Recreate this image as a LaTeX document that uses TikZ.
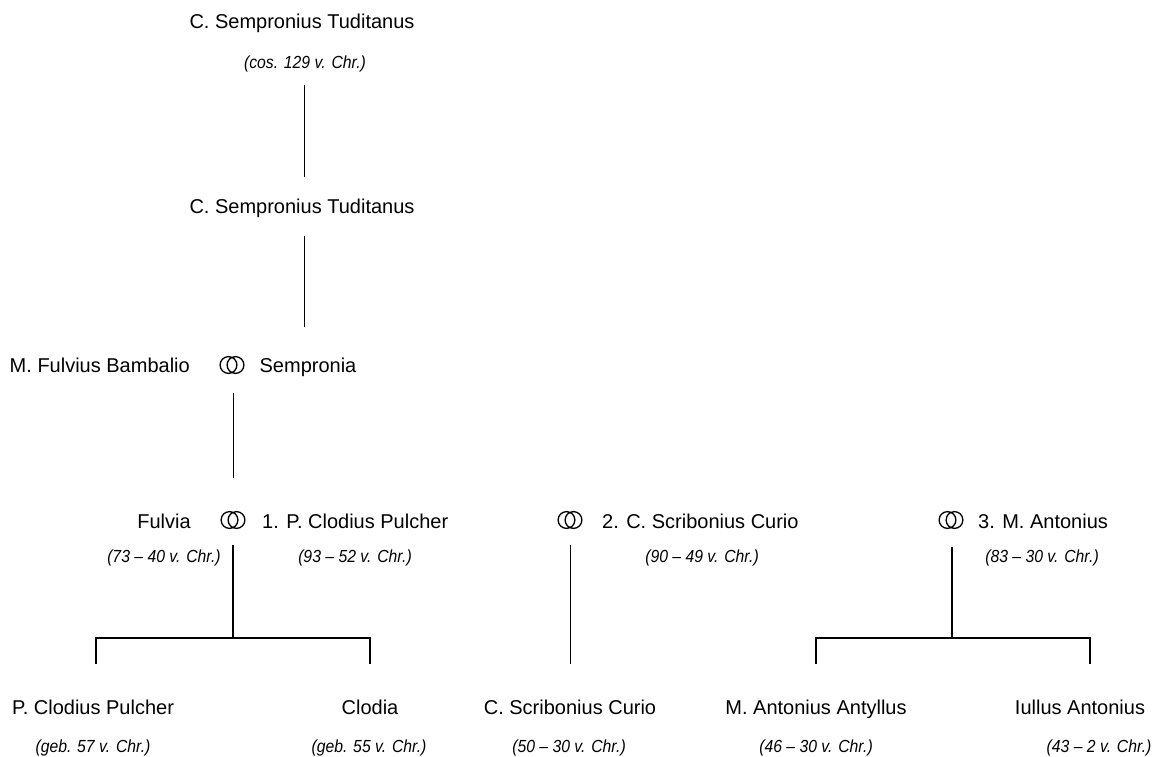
\documentclass[tikz,border=0pt]{standalone}
\usepackage{fontspec}
\setmainfont{Liberation Sans}
\newfontfamily\datefont[FakeStretch=0.9,Ligatures=TeX]{Liberation Sans}
\begin{document}
\begin{tikzpicture}[x=1pt,y=-1pt,
  nm/.style={anchor=base, inner sep=0pt, font=\fontsize{20}{24}\selectfont},
  dt/.style={anchor=base, inner sep=0pt, font=\datefont\fontsize{17.5}{20}\selectfont\itshape},
  thinl/.style={line width=1pt},
  thickl/.style={line width=1.6pt},
  marriage/.style={inner sep=0pt, minimum width=27pt, minimum height=21pt,
    path picture={\draw[line width=1.3pt]
      ([xshift=-3.5pt]path picture bounding box.center) circle[radius=8.4pt]
      ([xshift=3.5pt]path picture bounding box.center) circle[radius=8.4pt];}}]
\useasboundingbox (0,0) rectangle (1167,756);

% generation 1
\node[nm] (a1) at (302,28) {C. Sempronius Tuditanus};
\node[dt] (a1d) at (305,68) {(cos. 129 v. Chr.)};
% generation 2
\node[nm] (a2) at (302,213) {C. Sempronius Tuditanus};
% generation 3
\node[nm, anchor=base east] (b1) at (190,372) {M. Fulvius Bambalio};
\node[marriage] (m1) at (232,365) {};
\node[nm] (b2) at (308,372) {Sempronia};
% generation 4
\node[nm] (c1) at (164,528) {Fulvia};
\node[dt] (c1d) at (164,562) {(73 – 40 v. Chr.)};
\node[marriage] (m2) at (233,520) {};
\node[nm, anchor=base west] (c2) at (262,528) {1. P. Clodius Pulcher};
\node[dt] (c2d) at (355,562) {(93 – 52 v. Chr.)};
\node[marriage] (m3) at (570,520) {};
\node[nm, anchor=base west] (c3) at (602,528) {2. C. Scribonius Curio};
\node[dt] (c3d) at (702,562) {(90 – 49 v. Chr.)};
\node[marriage] (m4) at (951,520) {};
\node[nm, anchor=base west] (c4) at (978,528) {3. M. Antonius};
\node[dt] (c4d) at (1042,562) {(83 – 30 v. Chr.)};
% generation 5
\node[nm] (e1) at (93,714) {P. Clodius Pulcher};
\node[dt] (e1d) at (93,752) {(geb. 57 v. Chr.)};
\node[nm] (e2) at (370,714) {Clodia};
\node[dt] (e2d) at (369,752) {(geb. 55 v. Chr.)};
\node[nm] (e3) at (570,714) {C. Scribonius Curio};
\node[dt] (e3d) at (569,752) {(50 – 30 v. Chr.)};
\node[nm] (e4) at (816,714) {M. Antonius Antyllus};
\node[dt] (e4d) at (816,752) {(46 – 30 v. Chr.)};
\node[nm] (e5) at (1080,714) {Iullus Antonius};
\node[dt] (e5d) at (1099,752) {(43 – 2 v. Chr.)};

% connector end points
\coordinate (p1a) at (304,85);   \coordinate (p1b) at (304,177);
\coordinate (p2a) at (304,236);  \coordinate (p2b) at (304,327);
\coordinate (p3a) at (233,393);  \coordinate (p3b) at (233,478);
\coordinate (p4a) at (233,545);  \coordinate (p4b) at (233,638);
\coordinate (k1a) at (96,638);   \coordinate (k1b) at (96,664);
\coordinate (k2a) at (370,638);  \coordinate (k2b) at (370,664);
\coordinate (p5a) at (570,545);  \coordinate (p5b) at (570,664);
\coordinate (p6a) at (952,547);  \coordinate (p6b) at (952,638);
\coordinate (k3a) at (816,638);  \coordinate (k3b) at (816,664);
\coordinate (k4a) at (1090,638); \coordinate (k4b) at (1090,664);

\draw[thinl] (p1a) -- (p1b);
\draw[thinl] (p2a) -- (p2b);
\draw[thinl] (p3a) -- (p3b);
\draw[thickl] (p4a) -- (p4b);
\draw[thickl] (k1b) -- (k1a) -- (k2a) -- (k2b);
\draw[thinl] (p5a) -- (p5b);
\draw[thickl] (p6a) -- (p6b);
\draw[thickl] (k3b) -- (k3a) -- (k4a) -- (k4b);
\end{tikzpicture}
\end{document}
